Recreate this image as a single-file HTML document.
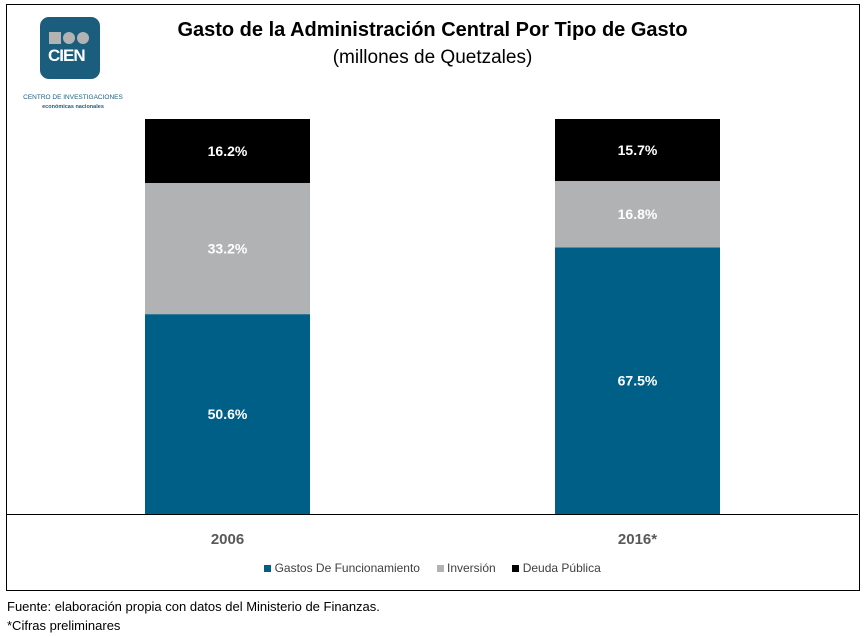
<!DOCTYPE html>
<html><head><meta charset="utf-8"><style>
body{margin:0;width:865px;height:637px;background:#fff;font-family:"Liberation Sans",sans-serif;position:relative;overflow:hidden}
.abs{position:absolute}
</style></head><body>
<div class="abs" style="left:6px;top:4px;width:852px;height:585px;border:1px solid #000"></div>
<div class="abs" style="left:40px;top:17px;width:60px;height:62px;background:#1b5d7c;border-radius:9px">
 <div class="abs" style="left:9px;top:15px;width:12px;height:12px;background:#b3b3b3"></div>
 <div class="abs" style="left:23px;top:15px;width:12px;height:12px;background:#b3b3b3;border-radius:50%"></div>
 <div class="abs" style="left:37px;top:15px;width:12px;height:12px;background:#b3b3b3;border-radius:50%"></div>
 <div class="abs" style="left:8px;top:29px;font-weight:bold;font-size:17px;color:#fff;letter-spacing:-1px">CIEN</div>
</div>
<div class="abs" style="left:10px;top:93px;font-size:6.5px;line-height:9px;color:#1b5d7c;text-align:center;width:126px;white-space:nowrap">CENTRO DE INVESTIGACIONES<br><span style="font-size:5.5px;font-weight:bold">económicas nacionales</span></div>
<div class="abs" style="left:0;width:865px;top:19px;text-align:center;font-size:20px;font-weight:bold;color:#000">Gasto de la Administración Central Por Tipo de Gasto</div>
<div class="abs" style="left:0;width:865px;top:47px;text-align:center;font-size:19px;color:#000">(millones de Quetzales)</div>
<svg class="abs" style="left:0;top:0" width="865" height="637" id="chart"></svg>
<div class="abs" style="left:0;width:865px;top:561px;text-align:center;font-size:12px;color:#404040">
 <span><span style="display:inline-block;width:7px;height:7px;background:#005f87"></span> Gastos De Funcionamiento</span>&nbsp;&nbsp;&nbsp;&nbsp;
 <span><span style="display:inline-block;width:7px;height:7px;background:#b1b2b4"></span> Inversión</span>&nbsp;&nbsp;&nbsp;&nbsp;
 <span><span style="display:inline-block;width:7px;height:7px;background:#000"></span> Deuda Pública</span>
</div>
<div class="abs" style="left:7px;top:597px;font-size:13px;line-height:19px;color:#000">Fuente: elaboración propia con datos del Ministerio de Finanzas.<br>*Cifras preliminares</div>
<script>
const categories=["2006","2016*"];
const funcionamiento=[50.6,67.5];
const inversion=[33.2,16.8];
const deuda=[16.2,15.7];
const svg=document.getElementById('chart');
const NS="http://www.w3.org/2000/svg";
const baseY=514,pxPer=395/100,barW=165;
const xs=i=>145+i*410;
const y=v=>v*pxPer;
function add(tag,attrs){const e=document.createElementNS(NS,tag);for(const k in attrs)e.setAttribute(k,attrs[k]);svg.appendChild(e);return e;}
const series=[{d:funcionamiento,c:"#005f87",n:"funcionamiento"},{d:inversion,c:"#b1b2b4",n:"inversion"},{d:deuda,c:"#000",n:"deuda"}];
categories.forEach((cat,i)=>{
 let acc=0;
 series.forEach(s=>{
  const v=s.d[i];const h=y(v);const top=baseY-y(acc)-h;
  const r=add('rect',{x:xs(i),y:top,width:barW,height:h,fill:s.c});
  
  
  const t=add('text',{x:xs(i)+barW/2,y:top+h/2+5,'text-anchor':'middle','font-size':14,'font-weight':'bold',fill:'#fff','font-family':'Liberation Sans'});
  t.textContent=v.toFixed(1)+'%';
  
  
  acc+=v;
 });
 const ct=add('text',{x:xs(i)+barW/2,y:544,'text-anchor':'middle','font-size':15,'font-weight':'bold',fill:'#595959','font-family':'Liberation Sans'});
 ct.textContent=cat;
 
 
});
const ax=add('line',{x1:7,x2:858,y1:baseY+0.5,y2:baseY+0.5,stroke:'#000','stroke-width':1});


</script>
</body></html>
